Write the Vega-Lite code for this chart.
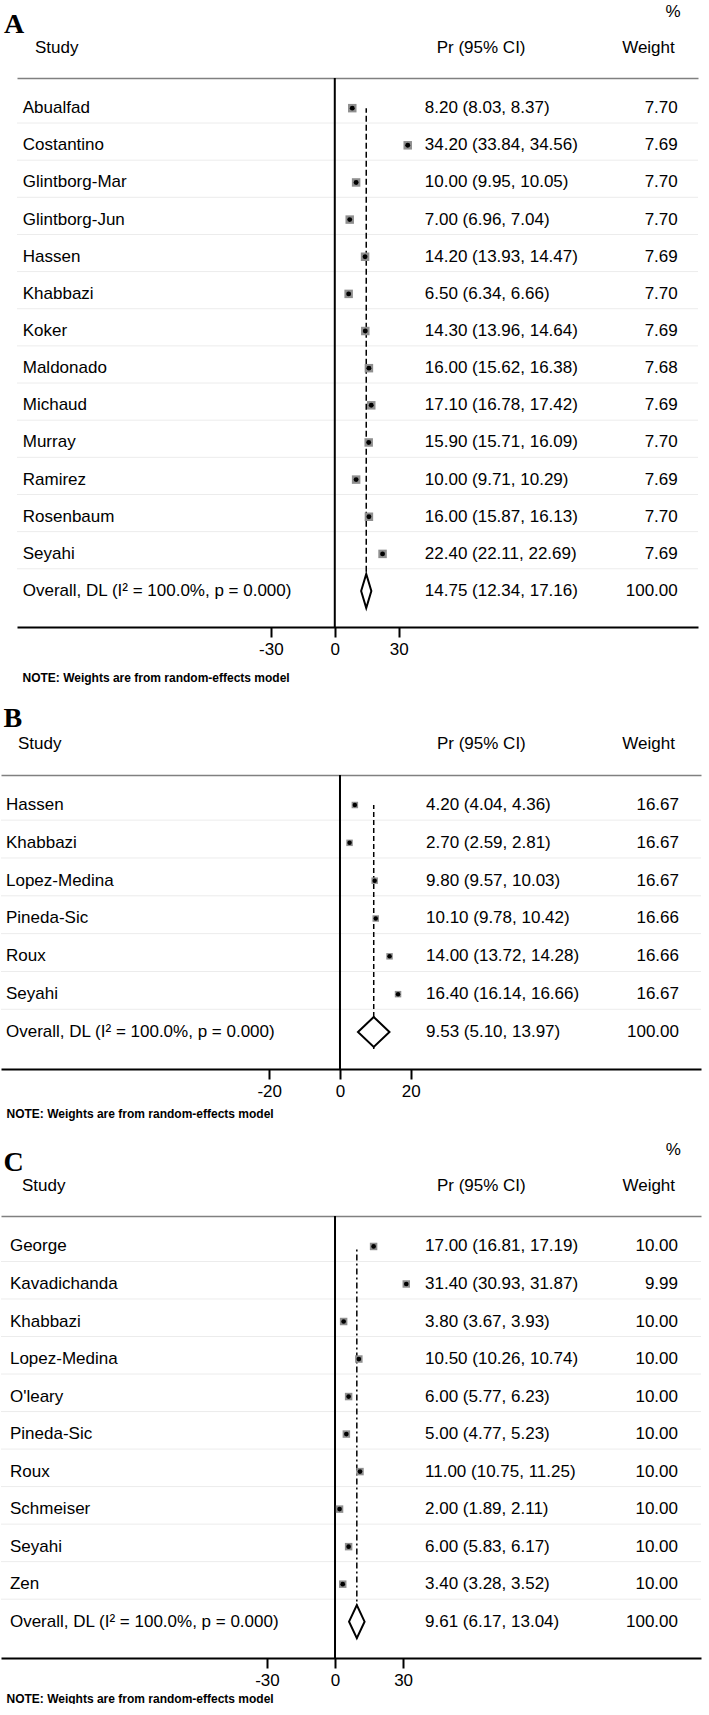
{
  "$schema": "https://vega.github.io/schema/vega-lite/v6.json",
  "padding": {"top": 3, "left": 0, "right": 0, "bottom": 0},
  "spacing": 22,
  "background": "white",
  "config": {
    "font": "Liberation Sans",
    "view": {"stroke": null},
    "text": {"font": "Liberation Sans", "fontSize": 17, "color": "black", "baseline": "middle"},
    "axis": {"labelFont": "Liberation Sans", "titleFont": "Liberation Sans"}
  },
  "datasets": {
    "A": [
      {"study": "Abualfad", "es": 8.2, "lci": 8.03, "uci": 8.37, "weight": 7.70, "ci": "8.20 (8.03, 8.37)", "type": "study"},
      {"study": "Costantino", "es": 34.2, "lci": 33.84, "uci": 34.56, "weight": 7.69, "ci": "34.20 (33.84, 34.56)", "type": "study"},
      {"study": "Glintborg-Mar", "es": 10.0, "lci": 9.95, "uci": 10.05, "weight": 7.70, "ci": "10.00 (9.95, 10.05)", "type": "study"},
      {"study": "Glintborg-Jun", "es": 7.0, "lci": 6.96, "uci": 7.04, "weight": 7.70, "ci": "7.00 (6.96, 7.04)", "type": "study"},
      {"study": "Hassen", "es": 14.2, "lci": 13.93, "uci": 14.47, "weight": 7.69, "ci": "14.20 (13.93, 14.47)", "type": "study"},
      {"study": "Khabbazi", "es": 6.5, "lci": 6.34, "uci": 6.66, "weight": 7.70, "ci": "6.50 (6.34, 6.66)", "type": "study"},
      {"study": "Koker", "es": 14.3, "lci": 13.96, "uci": 14.64, "weight": 7.69, "ci": "14.30 (13.96, 14.64)", "type": "study"},
      {"study": "Maldonado", "es": 16.0, "lci": 15.62, "uci": 16.38, "weight": 7.68, "ci": "16.00 (15.62, 16.38)", "type": "study"},
      {"study": "Michaud", "es": 17.1, "lci": 16.78, "uci": 17.42, "weight": 7.69, "ci": "17.10 (16.78, 17.42)", "type": "study"},
      {"study": "Murray", "es": 15.9, "lci": 15.71, "uci": 16.09, "weight": 7.70, "ci": "15.90 (15.71, 16.09)", "type": "study"},
      {"study": "Ramirez", "es": 10.0, "lci": 9.71, "uci": 10.29, "weight": 7.69, "ci": "10.00 (9.71, 10.29)", "type": "study"},
      {"study": "Rosenbaum", "es": 16.0, "lci": 15.87, "uci": 16.13, "weight": 7.70, "ci": "16.00 (15.87, 16.13)", "type": "study"},
      {"study": "Seyahi", "es": 22.4, "lci": 22.11, "uci": 22.69, "weight": 7.69, "ci": "22.40 (22.11, 22.69)", "type": "study"},
      {"study": "Overall, DL (I² = 100.0%, p = 0.000)", "es": 14.75, "lci": 12.34, "uci": 17.16, "weight": 100.0, "ci": "14.75 (12.34, 17.16)", "type": "overall"}
    ],
    "B": [
      {"study": "Hassen", "es": 4.2, "lci": 4.04, "uci": 4.36, "weight": 16.67, "ci": "4.20 (4.04, 4.36)", "type": "study"},
      {"study": "Khabbazi", "es": 2.7, "lci": 2.59, "uci": 2.81, "weight": 16.67, "ci": "2.70 (2.59, 2.81)", "type": "study"},
      {"study": "Lopez-Medina", "es": 9.8, "lci": 9.57, "uci": 10.03, "weight": 16.67, "ci": "9.80 (9.57, 10.03)", "type": "study"},
      {"study": "Pineda-Sic", "es": 10.1, "lci": 9.78, "uci": 10.42, "weight": 16.66, "ci": "10.10 (9.78, 10.42)", "type": "study"},
      {"study": "Roux", "es": 14.0, "lci": 13.72, "uci": 14.28, "weight": 16.66, "ci": "14.00 (13.72, 14.28)", "type": "study"},
      {"study": "Seyahi", "es": 16.4, "lci": 16.14, "uci": 16.66, "weight": 16.67, "ci": "16.40 (16.14, 16.66)", "type": "study"},
      {"study": "Overall, DL (I² = 100.0%, p = 0.000)", "es": 9.53, "lci": 5.10, "uci": 13.97, "weight": 100.0, "ci": "9.53 (5.10, 13.97)", "type": "overall"}
    ],
    "C": [
      {"study": "George", "es": 17.0, "lci": 16.81, "uci": 17.19, "weight": 10.00, "ci": "17.00 (16.81, 17.19)", "type": "study"},
      {"study": "Kavadichanda", "es": 31.4, "lci": 30.93, "uci": 31.87, "weight": 9.99, "ci": "31.40 (30.93, 31.87)", "type": "study"},
      {"study": "Khabbazi", "es": 3.8, "lci": 3.67, "uci": 3.93, "weight": 10.00, "ci": "3.80 (3.67, 3.93)", "type": "study"},
      {"study": "Lopez-Medina", "es": 10.5, "lci": 10.26, "uci": 10.74, "weight": 10.00, "ci": "10.50 (10.26, 10.74)", "type": "study"},
      {"study": "O'leary", "es": 6.0, "lci": 5.77, "uci": 6.23, "weight": 10.00, "ci": "6.00 (5.77, 6.23)", "type": "study"},
      {"study": "Pineda-Sic", "es": 5.0, "lci": 4.77, "uci": 5.23, "weight": 10.00, "ci": "5.00 (4.77, 5.23)", "type": "study"},
      {"study": "Roux", "es": 11.0, "lci": 10.75, "uci": 11.25, "weight": 10.00, "ci": "11.00 (10.75, 11.25)", "type": "study"},
      {"study": "Schmeiser", "es": 2.0, "lci": 1.89, "uci": 2.11, "weight": 10.00, "ci": "2.00 (1.89, 2.11)", "type": "study"},
      {"study": "Seyahi", "es": 6.0, "lci": 5.83, "uci": 6.17, "weight": 10.00, "ci": "6.00 (5.83, 6.17)", "type": "study"},
      {"study": "Zen", "es": 3.4, "lci": 3.28, "uci": 3.52, "weight": 10.00, "ci": "3.40 (3.28, 3.52)", "type": "study"},
      {"study": "Overall, DL (I² = 100.0%, p = 0.000)", "es": 9.61, "lci": 6.17, "uci": 13.04, "weight": 100.0, "ci": "9.61 (6.17, 13.04)", "type": "overall"}
    ]
  },
  "vconcat": [
    {
      "data": {"name": "A"},
      "width": 697,
      "height": 549,
      "title": {"text": "A", "anchor": "start", "frame": "bounds", "font": "Liberation Serif", "fontSize": 28, "fontWeight": "bold", "color": "black", "offset": -36, "dx": 3},
      "resolve": {"axis": {"x": "independent"}},
      "layer": [
        {
          "transform": [{"filter": "datum.type == 'study'"}],
          "mark": {"type": "rule", "color": "#ececec", "strokeWidth": 1},
          "encoding": {
            "x": {"datum": -149, "type": "quantitative", "axis": null},
            "x2": {"datum": 170.3},
            "y": {"field": "study", "type": "nominal", "sort": null, "bandPosition": 0.9,
                  "scale": {"type": "band", "paddingInner": 0, "paddingOuter": 0.39, "align": 0.4},
                  "axis": null}
          }
        },
        {
          "transform": [{"filter": "datum.type == 'overall'"}],
          "mark": {"type": "rule", "color": "black", "strokeWidth": 2},
          "encoding": {
            "x": {"datum": 0, "type": "quantitative",
                  "scale": {"domain": [-149, 170.3], "range": [16, 697], "nice": false, "zero": false},
                  "axis": {"values": [-30, 0, 30], "labelExpr": "replace(datum.label, '\u2212', '-')", "title": "NOTE: Weights are from random-effects model", "titleFontSize": 12, "titleFontWeight": "bold", "titleAlign": "left", "titleX": 21, "titleY": 50, "titleBaseline": "middle", "titleColor": "black", "domainColor": "black", "domainWidth": 2, "tickColor": "black", "tickWidth": 2, "tickSize": 10, "labelFontSize": 17, "labelColor": "black", "labelPadding": 4, "labelFlush": false, "grid": false}}
          }
        },
        {
          "transform": [{"filter": "datum.type == 'overall'"}],
          "mark": {"type": "rule", "color": "black", "strokeWidth": 1.5, "strokeDash": [6, 3]},
          "encoding": {
            "x": {"field": "es", "type": "quantitative",
                  "axis": {"orient": "top", "labels": false, "ticks": false, "domain": true, "domainColor": "#808080", "domainWidth": 1.5, "title": null, "grid": false}},
            "y": {"field": "study", "type": "nominal", "sort": null, "bandPosition": 0.95},
            "y2": {"datum": "Abualfad"}
          }
        },
        {
          "transform": [{"filter": "datum.type == 'study'"}],
          "mark": {"type": "rule", "color": "black", "strokeWidth": 1.5},
          "encoding": {
            "x": {"field": "lci", "type": "quantitative", "axis": null},
            "x2": {"field": "uci"},
            "y": {"field": "study", "type": "nominal", "sort": null, "bandPosition": 0.5}
          }
        },
        {
          "transform": [{"filter": "datum.type == 'study'"}],
          "mark": {"type": "point", "shape": "square", "filled": true, "color": "#8f8f8f", "opacity": 1, "size": 72},
          "encoding": {
            "x": {"field": "es", "type": "quantitative", "axis": null},
            "y": {"field": "study", "type": "nominal", "sort": null, "bandPosition": 0.5}
          }
        },
        {
          "transform": [{"filter": "datum.type == 'study'"}],
          "mark": {"type": "point", "shape": "circle", "filled": true, "color": "black", "opacity": 1, "size": 24},
          "encoding": {
            "x": {"field": "es", "type": "quantitative", "axis": null},
            "y": {"field": "study", "type": "nominal", "sort": null, "bandPosition": 0.5}
          }
        },
        {
          "transform": [{"filter": "datum.type == 'overall'"}],
          "mark": {"type": "point", "shape": "M -0.3 0 L 0 -1 L 0.3 0 L 0 1 Z", "filled": true, "fill": "white", "stroke": "black", "strokeWidth": 2, "opacity": 1, "size": 1156},
          "encoding": {
            "x": {"field": "es", "type": "quantitative", "axis": null},
            "y": {"field": "study", "type": "nominal", "sort": null, "bandPosition": 0.5}
          }
        },
        {
          "mark": {"type": "text", "align": "left"},
          "encoding": {
            "x": {"datum": -146.3, "type": "quantitative", "axis": null},
            "y": {"field": "study", "type": "nominal", "sort": null, "bandPosition": 0.5},
            "text": {"field": "study"}
          }
        },
        {
          "mark": {"type": "text", "align": "left"},
          "encoding": {
            "x": {"datum": 42.2, "type": "quantitative", "axis": null},
            "y": {"field": "study", "type": "nominal", "sort": null, "bandPosition": 0.5},
            "text": {"field": "ci"}
          }
        },
        {
          "mark": {"type": "text", "align": "right"},
          "encoding": {
            "x": {"datum": 160.8, "type": "quantitative", "axis": null},
            "y": {"field": "study", "type": "nominal", "sort": null, "bandPosition": 0.5},
            "text": {"field": "weight", "format": ".2f"}
          }
        },
        {
          "transform": [{"filter": "datum.type == 'overall'"}],
          "mark": {"type": "text", "align": "left", "text": "Study", "dy": -60},
          "encoding": {
            "x": {"datum": -140.6, "type": "quantitative", "axis": null},
            "y": {"datum": "Abualfad", "type": "nominal", "bandPosition": 0.5}
          }
        },
        {
          "transform": [{"filter": "datum.type == 'overall'"}],
          "mark": {"type": "text", "align": "left", "text": "Pr (95% CI)", "dy": -60},
          "encoding": {
            "x": {"datum": 47.8, "type": "quantitative", "axis": null},
            "y": {"datum": "Abualfad", "type": "nominal", "bandPosition": 0.5}
          }
        },
        {
          "transform": [{"filter": "datum.type == 'overall'"}],
          "mark": {"type": "text", "align": "right", "text": "Weight", "dy": -60},
          "encoding": {
            "x": {"datum": 159.4, "type": "quantitative", "axis": null},
            "y": {"datum": "Abualfad", "type": "nominal", "bandPosition": 0.5}
          }
        },
        {
          "transform": [{"filter": "datum.type == 'overall'"}],
          "mark": {"type": "text", "align": "right", "text": "%", "dy": -96},
          "encoding": {
            "x": {"datum": 162.2, "type": "quantitative", "axis": null},
            "y": {"datum": "Abualfad", "type": "nominal", "bandPosition": 0.5}
          }
        }
      ]
    },
    {
      "data": {"name": "B"},
      "width": 700,
      "height": 294,
      "title": {"text": "B", "anchor": "start", "frame": "bounds", "font": "Liberation Serif", "fontSize": 28, "fontWeight": "bold", "color": "black", "offset": 2, "dx": 3},
      "resolve": {"axis": {"x": "independent"}},
      "layer": [
        {
          "transform": [{"filter": "datum.type == 'study'"}],
          "mark": {"type": "rule", "color": "#ececec", "strokeWidth": 1},
          "encoding": {
            "y": {"field": "study", "type": "nominal", "sort": null, "bandPosition": 0.9,
                  "scale": {"type": "band", "paddingInner": 0, "paddingOuter": 0.386, "align": 0.38},
                  "axis": null}
          }
        },
        {
          "transform": [{"filter": "datum.type == 'overall'"}],
          "mark": {"type": "rule", "color": "black", "strokeWidth": 2},
          "encoding": {
            "x": {"datum": 0, "type": "quantitative",
                  "scale": {"domain": [-95.76, 101.98], "nice": false, "zero": false},
                  "axis": {"values": [-20, 0, 20], "labelExpr": "replace(datum.label, '\u2212', '-')", "title": "NOTE: Weights are from random-effects model", "titleFontSize": 12, "titleFontWeight": "bold", "titleAlign": "left", "titleX": 5, "titleY": 44, "titleBaseline": "middle", "titleColor": "black", "domainColor": "black", "domainWidth": 2, "tickColor": "black", "tickWidth": 2, "tickSize": 10, "labelFontSize": 17, "labelColor": "black", "labelPadding": 4, "labelFlush": false, "grid": false}}
          }
        },
        {
          "transform": [{"filter": "datum.type == 'overall'"}],
          "mark": {"type": "rule", "color": "black", "strokeWidth": 1.5, "strokeDash": [5, 3]},
          "encoding": {
            "x": {"field": "es", "type": "quantitative",
                  "axis": {"orient": "top", "labels": false, "ticks": false, "domain": true, "domainColor": "#808080", "domainWidth": 1.5, "title": null, "grid": false}},
            "y": {"field": "study", "type": "nominal", "sort": null, "bandPosition": 0.95},
            "y2": {"datum": "Hassen"}
          }
        },
        {
          "transform": [{"filter": "datum.type == 'study'"}],
          "mark": {"type": "rule", "color": "black", "strokeWidth": 1.5},
          "encoding": {
            "x": {"field": "lci", "type": "quantitative", "axis": null},
            "x2": {"field": "uci"},
            "y": {"field": "study", "type": "nominal", "sort": null, "bandPosition": 0.5}
          }
        },
        {
          "transform": [{"filter": "datum.type == 'study'"}],
          "mark": {"type": "point", "shape": "square", "filled": true, "color": "#8f8f8f", "opacity": 1, "size": 42},
          "encoding": {
            "x": {"field": "es", "type": "quantitative", "axis": null},
            "y": {"field": "study", "type": "nominal", "sort": null, "bandPosition": 0.5}
          }
        },
        {
          "transform": [{"filter": "datum.type == 'study'"}],
          "mark": {"type": "point", "shape": "circle", "filled": true, "color": "black", "opacity": 1, "size": 20},
          "encoding": {
            "x": {"field": "es", "type": "quantitative", "axis": null},
            "y": {"field": "study", "type": "nominal", "sort": null, "bandPosition": 0.5}
          }
        },
        {
          "transform": [{"filter": "datum.type == 'overall'"}],
          "mark": {"type": "point", "shape": "M -1.05 0 L 0 -1 L 1.05 0 L 0 1 Z", "filled": true, "fill": "white", "stroke": "black", "strokeWidth": 2, "opacity": 1, "size": 900},
          "encoding": {
            "x": {"field": "es", "type": "quantitative", "axis": null},
            "y": {"field": "study", "type": "nominal", "sort": null, "bandPosition": 0.5}
          }
        },
        {
          "mark": {"type": "text", "align": "left"},
          "encoding": {
            "x": {"datum": -94.35, "type": "quantitative", "axis": null},
            "y": {"field": "study", "type": "nominal", "sort": null, "bandPosition": 0.5},
            "text": {"field": "study"}
          }
        },
        {
          "mark": {"type": "text", "align": "left"},
          "encoding": {
            "x": {"datum": 24.3, "type": "quantitative", "axis": null},
            "y": {"field": "study", "type": "nominal", "sort": null, "bandPosition": 0.5},
            "text": {"field": "ci"}
          }
        },
        {
          "mark": {"type": "text", "align": "right"},
          "encoding": {
            "x": {"datum": 95.76, "type": "quantitative", "axis": null},
            "y": {"field": "study", "type": "nominal", "sort": null, "bandPosition": 0.5},
            "text": {"field": "weight", "format": ".2f"}
          }
        },
        {
          "transform": [{"filter": "datum.type == 'overall'"}],
          "mark": {"type": "text", "align": "left", "text": "Study", "dy": -61},
          "encoding": {
            "x": {"datum": -90.96, "type": "quantitative", "axis": null},
            "y": {"datum": "Hassen", "type": "nominal", "bandPosition": 0.5}
          }
        },
        {
          "transform": [{"filter": "datum.type == 'overall'"}],
          "mark": {"type": "text", "align": "left", "text": "Pr (95% CI)", "dy": -61},
          "encoding": {
            "x": {"datum": 27.4, "type": "quantitative", "axis": null},
            "y": {"datum": "Hassen", "type": "nominal", "bandPosition": 0.5}
          }
        },
        {
          "transform": [{"filter": "datum.type == 'overall'"}],
          "mark": {"type": "text", "align": "right", "text": "Weight", "dy": -61},
          "encoding": {
            "x": {"datum": 94.6, "type": "quantitative", "axis": null},
            "y": {"datum": "Hassen", "type": "nominal", "bandPosition": 0.5}
          }
        }
      ]
    },
    {
      "data": {"name": "C"},
      "width": 700,
      "height": 442,
      "title": {"text": "C", "anchor": "start", "frame": "bounds", "font": "Liberation Serif", "fontSize": 28, "fontWeight": "bold", "color": "black", "offset": -36, "dx": 3},
      "resolve": {"axis": {"x": "independent"}},
      "layer": [
        {
          "transform": [{"filter": "datum.type == 'study'"}],
          "mark": {"type": "rule", "color": "#ececec", "strokeWidth": 1},
          "encoding": {
            "y": {"field": "study", "type": "nominal", "sort": null, "bandPosition": 0.9,
                  "scale": {"type": "band", "paddingInner": 0, "paddingOuter": 0.39, "align": 0.4},
                  "axis": null}
          }
        },
        {
          "transform": [{"filter": "datum.type == 'overall'"}],
          "mark": {"type": "rule", "color": "black", "strokeWidth": 2},
          "encoding": {
            "x": {"datum": 0, "type": "quantitative",
                  "scale": {"domain": [-147.14, 161.23], "nice": false, "zero": false},
                  "axis": {"values": [-30, 0, 30], "labelExpr": "replace(datum.label, '\u2212', '-')", "title": "NOTE: Weights are from random-effects model", "titleFontSize": 12, "titleFontWeight": "bold", "titleAlign": "left", "titleX": 5, "titleY": 40, "titleBaseline": "middle", "titleColor": "black", "domainColor": "black", "domainWidth": 2, "tickColor": "black", "tickWidth": 2, "tickSize": 10, "labelFontSize": 17, "labelColor": "black", "labelPadding": 4, "labelFlush": false, "grid": false}}
          }
        },
        {
          "transform": [{"filter": "datum.type == 'overall'"}],
          "mark": {"type": "rule", "color": "black", "strokeWidth": 1.5, "strokeDash": [6, 3, 2, 3]},
          "encoding": {
            "x": {"field": "es", "type": "quantitative",
                  "axis": {"orient": "top", "labels": false, "ticks": false, "domain": true, "domainColor": "#808080", "domainWidth": 1.5, "title": null, "grid": false}},
            "y": {"field": "study", "type": "nominal", "sort": null, "bandPosition": 0.95},
            "y2": {"datum": "George"}
          }
        },
        {
          "transform": [{"filter": "datum.type == 'study'"}],
          "mark": {"type": "rule", "color": "black", "strokeWidth": 1.5},
          "encoding": {
            "x": {"field": "lci", "type": "quantitative", "axis": null},
            "x2": {"field": "uci"},
            "y": {"field": "study", "type": "nominal", "sort": null, "bandPosition": 0.5}
          }
        },
        {
          "transform": [{"filter": "datum.type == 'study'"}],
          "mark": {"type": "point", "shape": "square", "filled": true, "color": "#8f8f8f", "opacity": 1, "size": 56},
          "encoding": {
            "x": {"field": "es", "type": "quantitative", "axis": null},
            "y": {"field": "study", "type": "nominal", "sort": null, "bandPosition": 0.5}
          }
        },
        {
          "transform": [{"filter": "datum.type == 'study'"}],
          "mark": {"type": "point", "shape": "circle", "filled": true, "color": "black", "opacity": 1, "size": 22},
          "encoding": {
            "x": {"field": "es", "type": "quantitative", "axis": null},
            "y": {"field": "study", "type": "nominal", "sort": null, "bandPosition": 0.5}
          }
        },
        {
          "transform": [{"filter": "datum.type == 'overall'"}],
          "mark": {"type": "point", "shape": "M -0.47 0 L 0 -1 L 0.47 0 L 0 1 Z", "filled": true, "fill": "white", "stroke": "black", "strokeWidth": 2, "opacity": 1, "size": 1089},
          "encoding": {
            "x": {"field": "es", "type": "quantitative", "axis": null},
            "y": {"field": "study", "type": "nominal", "sort": null, "bandPosition": 0.5}
          }
        },
        {
          "mark": {"type": "text", "align": "left"},
          "encoding": {
            "x": {"datum": -143.2, "type": "quantitative", "axis": null},
            "y": {"field": "study", "type": "nominal", "sort": null, "bandPosition": 0.5},
            "text": {"field": "study"}
          }
        },
        {
          "mark": {"type": "text", "align": "left"},
          "encoding": {
            "x": {"datum": 39.65, "type": "quantitative", "axis": null},
            "y": {"field": "study", "type": "nominal", "sort": null, "bandPosition": 0.5},
            "text": {"field": "ci"}
          }
        },
        {
          "mark": {"type": "text", "align": "right"},
          "encoding": {
            "x": {"datum": 151.1, "type": "quantitative", "axis": null},
            "y": {"field": "study", "type": "nominal", "sort": null, "bandPosition": 0.5},
            "text": {"field": "weight", "format": ".2f"}
          }
        },
        {
          "transform": [{"filter": "datum.type == 'overall'"}],
          "mark": {"type": "text", "align": "left", "text": "Study", "dy": -60},
          "encoding": {
            "x": {"datum": -137.9, "type": "quantitative", "axis": null},
            "y": {"datum": "George", "type": "nominal", "bandPosition": 0.5}
          }
        },
        {
          "transform": [{"filter": "datum.type == 'overall'"}],
          "mark": {"type": "text", "align": "left", "text": "Pr (95% CI)", "dy": -60},
          "encoding": {
            "x": {"datum": 44.9, "type": "quantitative", "axis": null},
            "y": {"datum": "George", "type": "nominal", "bandPosition": 0.5}
          }
        },
        {
          "transform": [{"filter": "datum.type == 'overall'"}],
          "mark": {"type": "text", "align": "right", "text": "Weight", "dy": -60},
          "encoding": {
            "x": {"datum": 149.8, "type": "quantitative", "axis": null},
            "y": {"datum": "George", "type": "nominal", "bandPosition": 0.5}
          }
        },
        {
          "transform": [{"filter": "datum.type == 'overall'"}],
          "mark": {"type": "text", "align": "right", "text": "%", "dy": -96},
          "encoding": {
            "x": {"datum": 152.4, "type": "quantitative", "axis": null},
            "y": {"datum": "George", "type": "nominal", "bandPosition": 0.5}
          }
        }
      ]
    }
  ]
}
